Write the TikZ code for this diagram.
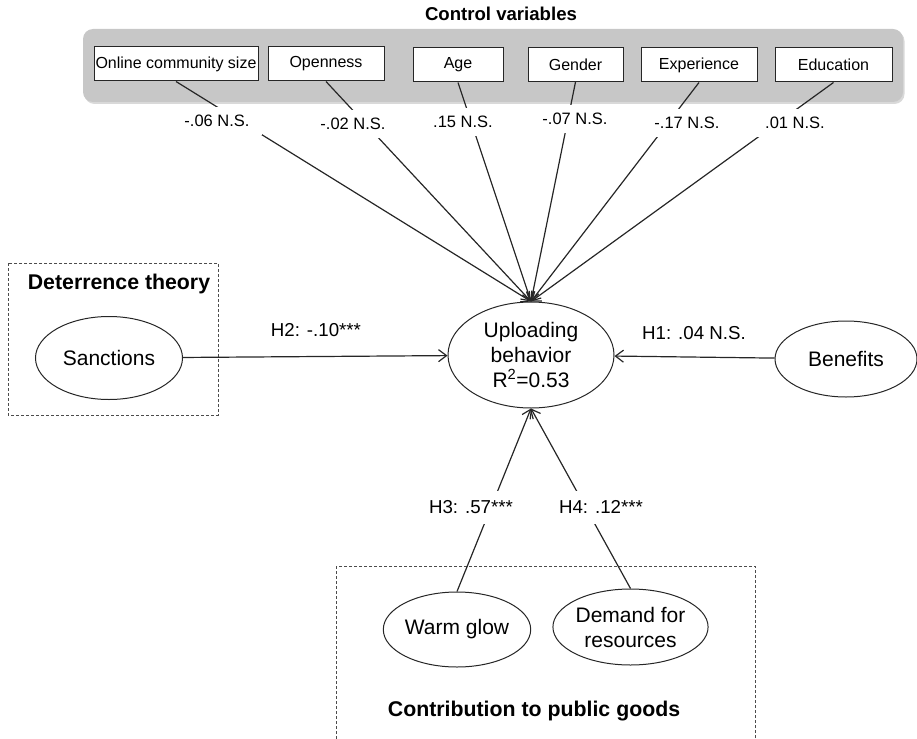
\documentclass[tikz,border=0pt]{standalone}
\usepackage{fontspec}
\setmainfont{Liberation Sans}
\setsansfont{Liberation Sans}
\usetikzlibrary{arrows.meta,shapes.geometric,shadows}
\tikzset{
  ctrlbox/.style={draw=black!85, fill=white, line width=1pt, minimum height=34pt, inner sep=0pt, font=\fontsize{16}{19}\selectfont},
  construct/.style={ellipse, draw=black!85, fill=white, line width=1pt, inner sep=0pt, align=center, font=\fontsize{21}{25}\selectfont},
  coef/.style={fill=white, minimum width=90pt, minimum height=28pt, inner sep=0pt, font=\fontsize{16.5}{19}\selectfont},
  hyp/.style={fill=white, inner sep=0pt, minimum height=33pt, font=\fontsize{18.7}{22}\selectfont},
  headline/.style={inner sep=0pt, font=\bfseries\fontsize{21.3}{25}\selectfont},
  frame/.style={draw=black!70, densely dashed, line width=0.8pt},
  arrow/.style={-{Straight Barb[length=8pt,width=12pt,line width=1.2pt]}, line width=1.2pt, draw=black!85}
}
\begin{document}
\begin{tikzpicture}[x=1pt, y=-1pt]
\useasboundingbox (0,0) rectangle (917,738);

% control variables
\node[headline, font=\bfseries\fontsize{18.6}{22}\selectfont] (ctrltitle) at (501,14) {Control variables};
\path[fill=black!22, rounded corners=10pt, drop shadow={shadow xshift=1.5pt, shadow yshift=-2pt, opacity=0.3}] (83,29) rectangle (903,102);
\node[ctrlbox, minimum width=164pt] (size) at (176,64) {Online community size};
\node[ctrlbox, minimum width=116pt] (open) at (326,64) {Openness};
\node[ctrlbox, minimum width=90pt] (age) at (458,65) {Age};
\node[ctrlbox, minimum width=95pt] (gender) at (575.5,64.5) {Gender};
\node[ctrlbox, minimum width=116pt] (exper) at (699,65) {Experience};
\node[ctrlbox, minimum width=117pt] (edu) at (833.5,65) {Education};

% frames
\draw[frame] (8,263) rectangle (218,415);
\node[headline] (dettitle) at (119,284) {Deterrence theory};
\draw[frame] (336,566) rectangle (755,760);
\node[headline] (contitle) at (534,711) {Contribution to public goods};

% constructs
\node[construct, minimum width=166pt, minimum height=106pt] (up) at (531,355) {Uploading\\behavior\\R\textsuperscript{2}=0.53};
\node[construct, minimum width=147pt, minimum height=83pt] (sanc) at (109,358) {Sanctions};
\node[construct, minimum width=142pt, minimum height=76pt] (bene) at (846,359) {Benefits};
\node[construct, minimum width=146pt, minimum height=75pt] (warm) at (457,629.5) {Warm glow};
\node[construct, minimum width=145pt, minimum height=76pt] (dem) at (630.5,627) {Demand for\\resources};

% paths
\draw[arrow] (size.south) -- (up.north);
\draw[arrow] (open.south) -- (up.north);
\draw[arrow] (age.south) -- (up.north);
\draw[arrow] (gender.south) -- (up.north);
\draw[arrow] (exper.south) -- (up.north);
\draw[arrow] (edu.south) -- (up.north);
\draw[arrow] (sanc) -- (up);
\draw[arrow] (bene) -- (up);
\draw[arrow] (warm.north) -- (up.south);
\draw[arrow] (dem.north) -- (up.south);

% coefficients
\node[coef] (csize) at (217,121) {-.06 N.S.};
\node[coef] (copen) at (353,124) {-.02 N.S.};
\node[coef] (cage) at (463,122) {.15 N.S.};
\node[coef] (cgender) at (575,119) {-.07 N.S.};
\node[coef] (cexper) at (687,123) {-.17 N.S.};
\node[coef] (cedu) at (795,123) {.01 N.S.};
\node[hyp, fill=none] (h2) at (316,330) {H2: -.10***};
\node[hyp, fill=none] (h1) at (694,333) {H1: .04 N.S.};
\node[hyp, inner xsep=4pt] (h3) at (471,507) {H3: .57***};
\node[hyp, inner xsep=4pt] (h4) at (601,507) {H4: .12***};
\end{tikzpicture}
\end{document}
